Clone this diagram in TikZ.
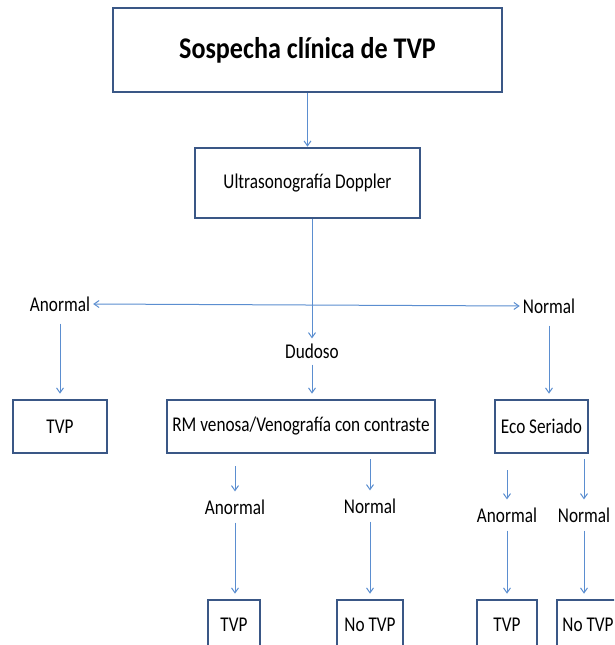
\documentclass[tikz,border=0pt]{standalone}
\usepackage{fontspec}
\setmainfont{Carlito}
\newfontfamily\condf[FakeStretch=0.82]{Carlito}
\newfontfamily\condtitle[FakeStretch=0.87]{Carlito}
\usetikzlibrary{arrows.meta}
\definecolor{boxc}{HTML}{3A5786}
\definecolor{arrc}{HTML}{5B8ED0}
\begin{document}
\begin{tikzpicture}[x=1pt,y=-1pt,
  box/.style={draw=boxc,line width=2.6pt,inner sep=0pt,font=\condf\fontsize{21}{24}\selectfont},
  arr/.style={draw=arrc,line width=1pt,-{Straight Barb[length=5pt,width=7pt]}},
  lbl/.style={inner sep=0pt,font=\condf\fontsize{21}{24}\selectfont}]
\useasboundingbox (0,0) rectangle (614,645);
\clip (0,0) rectangle (614,645);
% boxes
\node[box,minimum width=389pt,minimum height=84pt,font=\condtitle\bfseries\fontsize{30}{34}\selectfont] (top) at (307.5,50) {Sospecha clínica de TVP};
\node[box,minimum width=225pt,minimum height=70pt] (dop) at (307.5,183) {Ultrasonografía Doppler};
\node[box,minimum width=94pt,minimum height=53pt] (tvpA) at (60,426.5) {TVP};
\node[box,minimum width=268pt,minimum height=53pt] (rm) at (301,426.5) {RM venosa/Venografía con contraste};
\node[box,minimum width=93pt,minimum height=53pt] (eco) at (541.5,426.5) {Eco Seriado};
\node[box,minimum width=52pt,minimum height=50pt] (tvpB) at (234,625) {TVP};
\node[box,minimum width=66pt,minimum height=50pt] (notvpB) at (370,625) {No TVP};
\node[box,minimum width=60pt,minimum height=50pt] (tvpC) at (507,625) {TVP};
\node[box,minimum width=62pt,minimum height=50pt] (notvpC) at (588,625) {No TVP};
% labels
\node[lbl] (anA) at (60,304) {Anormal};
\node[lbl] (noA) at (549,306) {Normal};
\node[lbl] (dud) at (312,351) {Dudoso};
\node[lbl] (anB) at (235,507) {Anormal};
\node[lbl] (noB) at (370,506) {Normal};
\node[lbl] (anC) at (507,515) {Anormal};
\node[lbl] (noC) at (584,515) {Normal};
% connectors
\draw[arr] (top.south) -- (dop.north);
\draw[arr] (dop.south -| dud) -- ([yshift=5pt]dud.north);
\draw[arr,{Straight Barb[length=5pt,width=7pt]}-{Straight Barb[length=5pt,width=7pt]}] ([xshift=3pt]anA.east) -- ([xshift=-3pt]noA.west);
\draw[arr] ([yshift=-12pt]anA.south) -- ([yshift=5pt]tvpA.north);
\draw[arr] ([yshift=-12pt]noA.south) -- ([yshift=5pt]eco.north -| noA);
\draw[arr] ([yshift=-6pt]dud.south) -- ([yshift=5pt]rm.north -| dud);
\draw[arr] ([yshift=-12pt]rm.south -| anB) -- ([yshift=8pt]anB.north);
\draw[arr] ([yshift=-5pt]rm.south -| noB) -- ([yshift=8pt]noB.north);
\draw[arr] ([yshift=-8pt]anB.south) -- ([yshift=5pt]tvpB.north -| anB);
\draw[arr] ([yshift=-8pt]noB.south) -- ([yshift=5pt]notvpB.north -| noB);
\draw[arr] ([yshift=-16pt]eco.south -| anC) -- ([yshift=8pt]anC.north);
\draw[arr] ([yshift=-5pt]eco.south -| noC) -- ([yshift=8pt]noC.north);
\draw[arr] ([yshift=-8pt]anC.south) -- ([yshift=5pt]tvpC.north -| anC);
\draw[arr] ([yshift=-8pt]noC.south) -- ([yshift=5pt]notvpC.north -| noC);
\end{tikzpicture}
\end{document}
